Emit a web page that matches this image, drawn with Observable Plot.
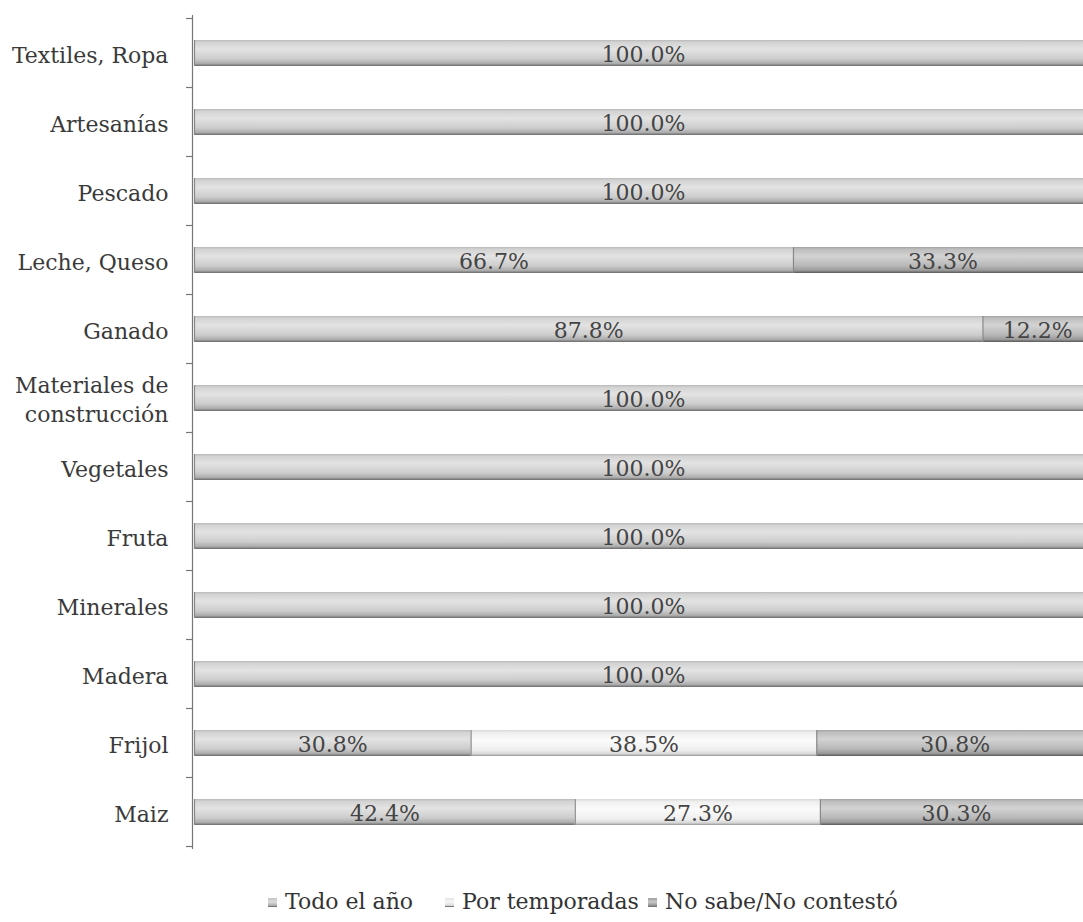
<!DOCTYPE html>
<html><head><meta charset="utf-8">
<script src="https://cdn.jsdelivr.net/npm/d3@7"></script>
<script src="https://cdn.jsdelivr.net/npm/@observablehq/plot@0.6"></script>
<style>
html,body{margin:0;padding:0;background:#fff;overflow:hidden;width:1083px;height:922px;}
#chart{width:1083px;height:860px;overflow:hidden;}
#chart svg{max-width:none !important;}
.legend{position:relative;height:30px;margin-top:27px;font-family:"DejaVu Serif",serif;font-size:22px;color:#333;}
.item{position:absolute;top:0;display:flex;align-items:center;white-space:nowrap;line-height:30px;}
.sw{width:9px;height:9px;margin-right:8px;border-bottom:1px solid #777;box-sizing:border-box;}
</style>
</head><body>
<div id="chart"></div>
<div class="legend" id="legend"></div>
<script>
const categories = ["Textiles, Ropa","Artesanías","Pescado","Leche, Queso","Ganado","Materiales de construcción","Vegetales","Fruta","Minerales","Madera","Frijol","Maiz"];
const seriesNames = ["Todo el año","Por temporadas","No sabe/No contestó"];
const todoElAno     = [100,100,100,66.7,87.8,100,100,100,100,100,30.8,42.4];
const porTemporadas = [0,0,0,0,0,0,0,0,0,0,38.5,27.3];
const noSabe        = [0,0,0,33.3,12.2,0,0,0,0,0,30.8,30.3];

const seriesValues = [todoElAno, porTemporadas, noSabe];
const data = [];
categories.forEach((c, i) => {
  seriesNames.forEach((s, j) => {
    const v = seriesValues[j][i];
    if (v > 0) data.push({cat: c, series: s, value: v});
  });
});

const gradIds = ["gTodo","gPor","gNo"];
const stack = {x: "value", y: "cat", z: "series", order: seriesNames};

function boundaryTicks(index, scales) {
  const y = scales.y;
  const desc = scales.scales && scales.scales.y;
  const bw = (y.bandwidth ? y.bandwidth() : desc.bandwidth);
  const step = (y.step ? y.step() : desc.step);
  const g = document.createElementNS("http://www.w3.org/2000/svg","g");
  const x0 = scales.x(0) - 2;
  const ys = [];
  categories.forEach((c) => ys.push(y(c) + bw / 2 - step / 2));
  ys.push(y(categories[categories.length - 1]) + bw / 2 + step / 2);
  ys.forEach(v => {
    const l = document.createElementNS("http://www.w3.org/2000/svg","line");
    l.setAttribute("x1", x0 - 6); l.setAttribute("x2", x0);
    l.setAttribute("y1", v); l.setAttribute("y2", v);
    l.setAttribute("stroke", "#777"); l.setAttribute("stroke-width", 1.2);
    g.appendChild(l);
  });
  return g;
}

const chart = Plot.plot({
  width: 1092,
  height: 860,
  marginLeft: 194,
  marginRight: 0,
  marginTop: 15,
  marginBottom: 11,
  style: {fontFamily: "DejaVu Serif, serif", fontSize: "22px", color: "#333", background: "#fff"},
  x: {domain: [0, 100], axis: null},
  y: {domain: categories, paddingInner: 0.626, paddingOuter: 0.313, label: null},
  color: {type: "ordinal", domain: seriesNames, range: gradIds.map(id => `url(#${id})`)},
  marks: [
    Plot.barX(data, Plot.stackX({...stack, fill: "series"})),
    Plot.tickX(data, Plot.stackX1({...stack, stroke: "#888", strokeWidth: 1.2})),
    Plot.text(data, Plot.stackX({...stack, text: d => d.value.toFixed(1) + "%", fill: "#444", fontSize: 22, dy: 1})),
    Plot.ruleX([0], {dx: -2, stroke: "#777", strokeWidth: 1.2}),
    Plot.axisY({tickSize: 0, tickPadding: 26, fontSize: 22, fill: "#3a3a3a", lineHeight: 1.3,
      tickFormat: d => d === "Materiales de construcción" ? "Materiales de\nconstrucción" : d}),
    boundaryTicks
  ]
});

const ns = "http://www.w3.org/2000/svg";
const defs = document.createElementNS(ns, "defs");
const stops = {
  gTodo: [[0,"#b8b8b8"],[0.08,"#d2d2d2"],[0.35,"#e3e3e3"],[0.72,"#cdcdcd"],[0.9,"#adadad"],[1,"#6a6a6a"]],
  gPor:  [[0,"#d8d8d8"],[0.1,"#efefef"],[0.4,"#fbfbfb"],[0.78,"#eeeeee"],[0.92,"#d6d6d6"],[1,"#959595"]],
  gNo:   [[0,"#a2a2a2"],[0.08,"#bdbdbd"],[0.35,"#d3d3d3"],[0.72,"#b8b8b8"],[0.9,"#9a9a9a"],[1,"#575757"]]
};
for (const id of gradIds) {
  const lg = document.createElementNS(ns, "linearGradient");
  lg.setAttribute("id", id);
  lg.setAttribute("x1", "0"); lg.setAttribute("y1", "0");
  lg.setAttribute("x2", "0"); lg.setAttribute("y2", "1");
  for (const [o, c] of stops[id]) {
    const s = document.createElementNS(ns, "stop");
    s.setAttribute("offset", o); s.setAttribute("stop-color", c);
    lg.appendChild(s);
  }
  defs.appendChild(lg);
}
chart.insertBefore(defs, chart.firstChild);
document.getElementById("chart").appendChild(chart);

const legendColors = ["linear-gradient(#c4c4c4,#dcdcdc,#a8a8a8)","linear-gradient(#e4e4e4,#f6f6f6,#d4d4d4)","linear-gradient(#9e9e9e,#c8c8c8,#8a8a8a)"];
const legendLeft = [268, 445, 648];
const leg = document.getElementById("legend");
seriesNames.forEach((s, i) => {
  const it = document.createElement("div");
  it.className = "item";
  it.style.left = legendLeft[i] + "px";
  const sw = document.createElement("span");
  sw.className = "sw";
  sw.style.background = legendColors[i];
  const t = document.createElement("span");
  t.textContent = s;
  it.appendChild(sw); it.appendChild(t);
  leg.appendChild(it);
});
</script>
</body></html>
